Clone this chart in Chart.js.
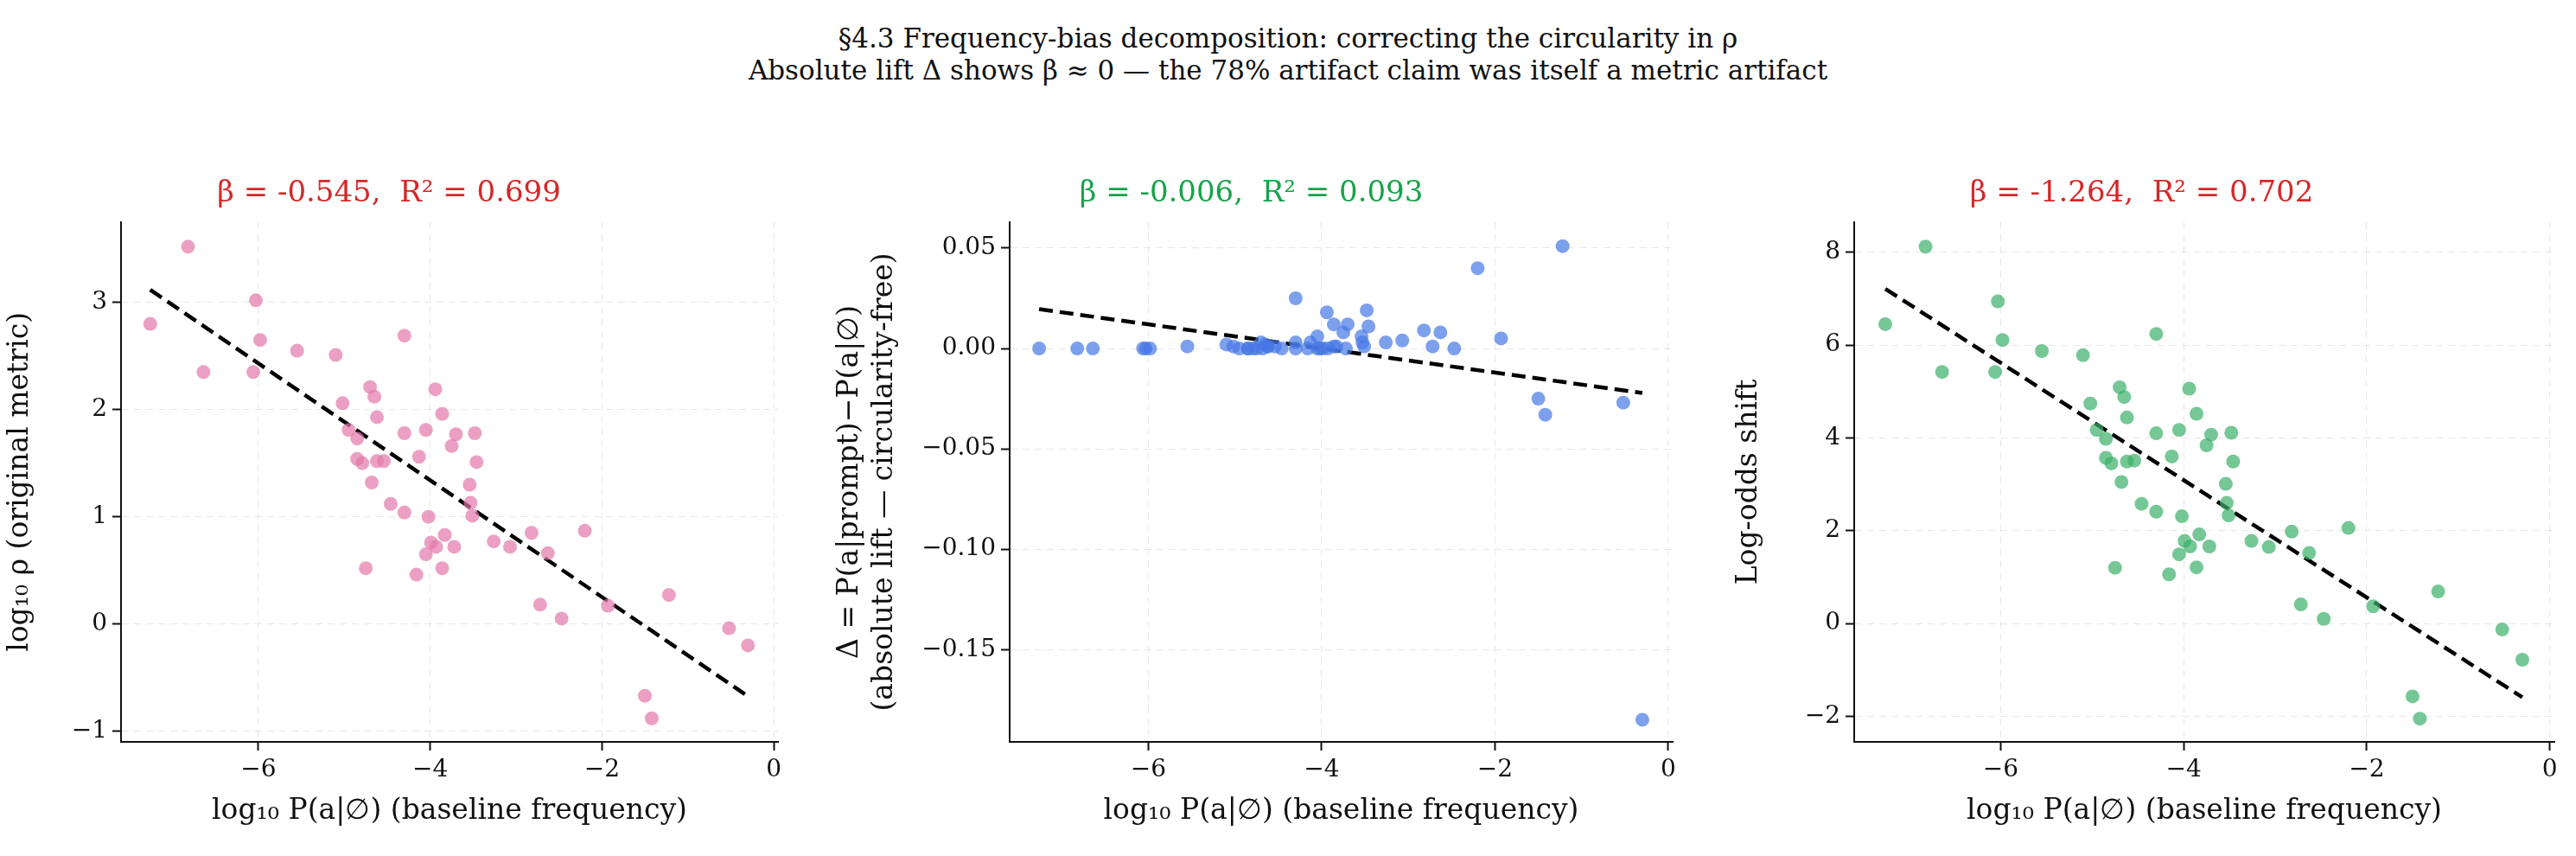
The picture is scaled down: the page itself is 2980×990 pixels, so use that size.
<!DOCTYPE html>
<html>
<head>
<meta charset="utf-8">
<script src="https://cdn.jsdelivr.net/npm/chart.js@4.4.0/dist/chart.umd.min.js"></script>
<style>
  body { margin: 0; background: #fff; width: 2980px; height: 990px; position: relative; overflow: hidden; }
  .sup { position: absolute; left: 0; width: 2980px; text-align: center; font-family: "DejaVu Serif", serif; font-size: 31px; color: #111; }
  .box { position: absolute; top: 196px; height: 762px; }
</style>
</head>
<body>
<div class="sup" style="top:26px">§4.3 Frequency-bias decomposition: correcting the circularity in ρ</div>
<div class="sup" style="top:63px">Absolute lift Δ shows β ≈ 0 — the 78% artifact claim was itself a metric artifact</div>
<div class="box" style="left:0;width:920px"><canvas id="c1"></canvas></div>
<div class="box" style="left:960px;width:1000px"><canvas id="c2"></canvas></div>
<div class="box" style="left:2000px;width:980px"><canvas id="c3"></canvas></div>
<script>
// baseline frequency, log10 P(a|∅)
const baseline = [-6.82, -7.26, -6.03, -5.98, -6.64, -6.06, -5.55, -5.10, -4.30, -4.70, -4.65, -5.02, -3.94, -3.86,
  -4.62, -4.95, -4.85, -4.30, -4.05, -3.70, -3.48, -3.75, -4.85, -4.79, -4.62, -4.54, -4.13, -3.46, -4.68, -3.54,
  -3.53, -3.51, -4.46, -4.30, -4.02, -3.83, -3.99, -3.93, -3.72, -4.05, -4.75, -4.16, -3.86, -3.26, -3.07, -2.82,
  -2.63, -2.20, -2.72, -2.47, -1.93, -1.22, -1.50, -1.42, -0.52, -0.30];
// log10 rho (original metric)
const logRho = [3.52, 2.80, 3.02, 2.65, 2.35, 2.35, 2.55, 2.51, 2.69, 2.21, 2.12, 2.06, 2.19, 1.96,
  1.93, 1.81, 1.73, 1.78, 1.81, 1.77, 1.78, 1.66, 1.54, 1.50, 1.52, 1.52, 1.56, 1.51, 1.32, 1.30,
  1.13, 1.01, 1.12, 1.04, 1.00, 0.83, 0.76, 0.72, 0.72, 0.65, 0.52, 0.46, 0.52, 0.77, 0.72, 0.85,
  0.66, 0.87, 0.18, 0.05, 0.17, 0.27, -0.67, -0.88, -0.04, -0.20];
// absolute lift delta
const delta = [0, 0, 0, 0, 0, 0, 0.001, 0.002, 0.025, 0.003, 0.002, 0.001, 0.018, 0.012,
  0.001, 0, 0, 0.003, 0.006, 0.012, 0.019, 0.008, 0, 0, 0.001, 0.001, 0.003, 0.011, 0, 0.006,
  0.003, 0.001, 0, 0, 0, 0.001, 0, 0, 0, 0, 0, 0, 0.001, 0.003, 0.004, 0.009,
  0.008, 0.040, 0.001, 0, 0.005, 0.051, -0.025, -0.033, -0.027, -0.185];
// log-odds shift
const logOdds = [8.12, 6.45, 6.94, 6.11, 5.42, 5.42, 5.87, 5.78, 6.24, 5.09, 4.88, 4.74, 5.06, 4.52,
  4.44, 4.17, 3.98, 4.10, 4.17, 4.07, 4.11, 3.84, 3.57, 3.45, 3.49, 3.51, 3.60, 3.49, 3.05, 3.01,
  2.60, 2.33, 2.58, 2.41, 2.31, 1.92, 1.78, 1.66, 1.66, 1.49, 1.20, 1.06, 1.21, 1.78, 1.65, 1.98,
  1.52, 2.06, 0.41, 0.10, 0.37, 0.69, -1.57, -2.05, -0.13, -0.78];
const betas = [-0.545, -0.006, -1.264];
const r2s = [0.699, 0.093, 0.702];
const xTicks = [-6, -4, -2, 0];

const serif = "'DejaVu Serif', serif";
const minus = v => String(v).replace('-', '\u2212');

function fitLine(xs, ys, beta) {
  const mx = xs.reduce((a, b) => a + b, 0) / xs.length;
  const my = ys.reduce((a, b) => a + b, 0) / ys.length;
  const x0 = Math.min(...xs), x1 = Math.max(...xs);
  return [{ x: x0, y: my + beta * (x0 - mx) }, { x: x1, y: my + beta * (x1 - mx) }];
}

function makeChart(id, ys, i, cfg) {
  const pts = baseline.map((x, k) => ({ x: x, y: ys[k] }));
  new Chart(document.getElementById(id), {
    type: 'scatter',
    data: {
      datasets: [
        { data: pts, backgroundColor: cfg.color, borderWidth: 0, pointRadius: 8, pointHoverRadius: 8 },
        { type: 'line', data: fitLine(baseline, ys, betas[i]), borderColor: '#000', borderWidth: 4.5,
          borderDash: [16, 8], pointRadius: 0, fill: false }
      ]
    },
    options: {
      responsive: false, animation: false, maintainAspectRatio: false,
      layout: { padding: { right: cfg.padRight, top: 0 } },
      plugins: {
        legend: { display: false }, tooltip: { enabled: false },
        title: { display: true, text: `β = ${betas[i]},  R² = ${r2s[i]}`, color: cfg.titleColor,
          font: { family: serif, size: 34, weight: 'normal' }, padding: { top: 8, bottom: 12 } }
      },
      scales: {
        x: {
          type: 'linear', min: -7.6, max: 0.05,
          afterBuildTicks: ax => { ax.ticks = xTicks.map(v => ({ value: v })); },
          afterFit: ax => { ax.height = 100; },
          ticks: { callback: v => minus(v), color: '#111', font: { family: serif, size: 28 }, padding: 6 },
          grid: { color: 'rgba(0,0,0,0.09)', tickColor: '#111', tickLength: 10, tickWidth: 2 },
          border: { display: true, color: '#111', width: 2, dash: [8, 6] },
          title: { display: true, text: 'log₁₀ P(a|∅) (baseline frequency)', color: '#111',
            font: { family: serif, size: 33 }, padding: { top: 4, bottom: 0 } }
        },
        y: {
          min: cfg.yMin, max: cfg.yMax,
          afterBuildTicks: ax => { ax.ticks = cfg.yTicks.map(v => ({ value: v })); },
          afterFit: ax => { ax.width = cfg.yWidth; },
          ticks: { callback: cfg.yFmt, color: '#111', font: { family: serif, size: 28 }, padding: 6 },
          grid: { color: 'rgba(0,0,0,0.09)', tickColor: '#111', tickLength: 10, tickWidth: 2 },
          border: { display: true, color: '#111', width: 2, dash: [8, 6] },
          title: { display: true, text: cfg.yTitle, color: '#111', font: { family: serif, size: 33 }, padding: { bottom: 4 } }
        }
      }
    },
    plugins: [{
      id: 'solidSpines',
      afterDraw(chart) {
        const c = chart.ctx, a = chart.chartArea;
        c.save(); c.strokeStyle = '#111'; c.lineWidth = 2; c.setLineDash([]);
        c.beginPath(); c.moveTo(a.left, a.top); c.lineTo(a.left, a.bottom); c.lineTo(a.right, a.bottom); c.stroke();
        c.restore();
      }
    }]
  });
}

function sizeCanvas(id, w) { const cv = document.getElementById(id); cv.width = w; cv.height = 762; cv.style.width = w + 'px'; cv.style.height = '762px'; }
sizeCanvas('c1', 920); sizeCanvas('c2', 1000); sizeCanvas('c3', 980);

makeChart('c1', logRho, 0, {
  color: 'rgba(227,119,170,0.7)', titleColor: '#d62728', padRight: 20, yWidth: 140,
  yMin: -1.1, yMax: 3.75, yTicks: [-1, 0, 1, 2, 3], yFmt: v => minus(v), yTitle: 'log₁₀ ρ (original metric)'
});
makeChart('c2', delta, 1, {
  color: 'rgba(70,120,230,0.7)', titleColor: '#16a34a', padRight: 25, yWidth: 208,
  yMin: -0.196, yMax: 0.063, yTicks: [-0.15, -0.10, -0.05, 0, 0.05], yFmt: v => minus(v.toFixed(2)),
  yTitle: ['Δ = P(a|prompt)−P(a|∅)', '(absolute lift — circularity-free)']
});
makeChart('c3', logOdds, 2, {
  color: 'rgba(60,175,105,0.7)', titleColor: '#d62728', padRight: 25, yWidth: 145,
  yMin: -2.55, yMax: 8.65, yTicks: [-2, 0, 2, 4, 6, 8], yFmt: v => minus(v), yTitle: 'Log-odds shift'
});
</script>
</body>
</html>
